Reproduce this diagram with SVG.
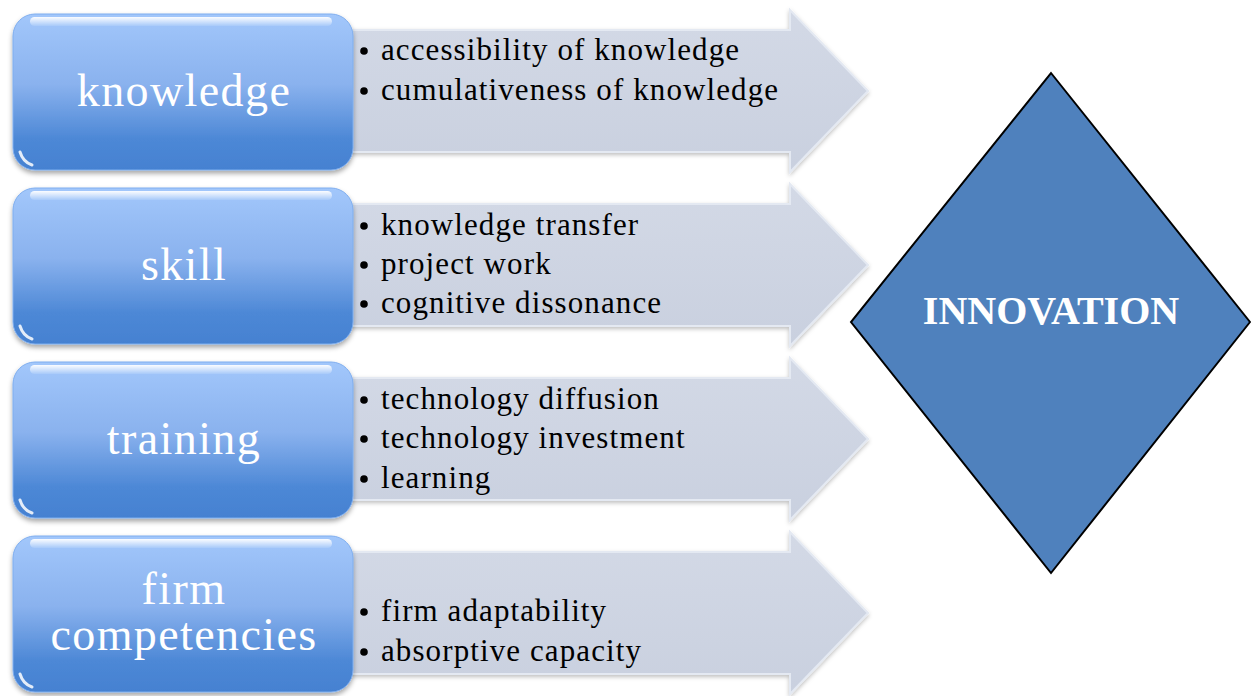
<svg xmlns="http://www.w3.org/2000/svg" width="1251" height="696" viewBox="0 0 1251 696">
<defs>
  <linearGradient id="boxg" x1="0" y1="0" x2="0" y2="1">
    <stop offset="0" stop-color="#A2C7FB"/>
    <stop offset="0.45" stop-color="#8AB2EE"/>
    <stop offset="0.8" stop-color="#4D88D6"/>
    <stop offset="1" stop-color="#4581D1"/>
  </linearGradient>
  <linearGradient id="gloss" x1="0" y1="0" x2="0" y2="1">
    <stop offset="0" stop-color="#FFFFFF" stop-opacity="0.95"/>
    <stop offset="1" stop-color="#FFFFFF" stop-opacity="0.1"/>
  </linearGradient>
  <linearGradient id="arrg" x1="0" y1="0" x2="0" y2="1">
    <stop offset="0" stop-color="#D3D9E6"/>
    <stop offset="1" stop-color="#C9D0DF"/>
  </linearGradient>
  <filter id="sh" x="-10%" y="-10%" width="120%" height="130%">
    <feDropShadow dx="0" dy="3" stdDeviation="2.5" flood-color="#000" flood-opacity="0.35"/>
  </filter>
  <filter id="sha" x="-10%" y="-10%" width="120%" height="130%">
    <feDropShadow dx="0" dy="2" stdDeviation="2" flood-color="#000" flood-opacity="0.25"/>
  </filter>
  <path id="arrow" d="M350,-61 H790 V-81 L868,0 L790,81 V61 H350 Z"/>
  <path id="blob" d="M16,-20 Q18,-6 30,-2 Q20,-4 16,-20 Z"/>
</defs>
<style>
  .arr { fill: url(#arrg); stroke: #E4E9F2; stroke-width: 2; filter: url(#sha); }
  .box { fill: url(#boxg); stroke: #7FAEEF; stroke-width: 1; filter: url(#sh); }
  .lbl { font-family: "Liberation Serif", "Times New Roman", serif; font-size: 46px; letter-spacing: 1.4px; fill: #FFFFFF; text-anchor: middle; }
  .bul { font-family: "Liberation Serif", "Times New Roman", serif; font-size: 31px; letter-spacing: 1.1px; fill: #000000; }
  .dot { fill: #000000; }
  .inn { font-family: "Liberation Serif", "Times New Roman", serif; font-size: 40px; font-weight: bold; fill: #FFFFFF; text-anchor: middle; }
  .gl { fill: url(#gloss); }
  .bl { fill: none; stroke: #FFFFFF; stroke-width: 3; stroke-linecap: round; opacity: 0.85; }
</style>

<g id="connectors">
  <use href="#arrow" class="arr" transform="translate(0,91)"/>
  <use href="#arrow" class="arr" transform="translate(0,265)"/>
  <use href="#arrow" class="arr" transform="translate(0,439)"/>
  <use href="#arrow" class="arr" transform="translate(0,613)"/>
</g>

<g id="bullets-knowledge">
  <circle class="dot" cx="364" cy="51" r="3.8"/>
  <text class="bul" x="381" y="60">accessibility of knowledge</text>
  <circle class="dot" cx="364" cy="91" r="3.8"/>
  <text class="bul" x="381" y="100">cumulativeness of knowledge</text>
</g>
<g id="bullets-skill">
  <circle class="dot" cx="364" cy="226" r="3.8"/>
  <text class="bul" x="381" y="235">knowledge transfer</text>
  <circle class="dot" cx="364" cy="265" r="3.8"/>
  <text class="bul" x="381" y="274">project work</text>
  <circle class="dot" cx="364" cy="304" r="3.8"/>
  <text class="bul" x="381" y="313">cognitive dissonance</text>
</g>
<g id="bullets-training">
  <circle class="dot" cx="364" cy="400" r="3.8"/>
  <text class="bul" x="381" y="409">technology diffusion</text>
  <circle class="dot" cx="364" cy="439" r="3.8"/>
  <text class="bul" x="381" y="448">technology investment</text>
  <circle class="dot" cx="364" cy="479" r="3.8"/>
  <text class="bul" x="381" y="488">learning</text>
</g>
<g id="bullets-firm">
  <circle class="dot" cx="364" cy="612" r="3.8"/>
  <text class="bul" x="381" y="621">firm adaptability</text>
  <circle class="dot" cx="364" cy="652" r="3.8"/>
  <text class="bul" x="381" y="661">absorptive capacity</text>
</g>

<g id="node-knowledge">
  <rect class="box" x="13" y="14" width="340" height="156" rx="22"/>
  <rect class="gl" x="30" y="17" width="302" height="9" rx="4.5"/>
  <path class="bl" d="M20,152 Q23,162 32,165"/>
  <text class="lbl" x="184" y="106">knowledge</text>
</g>
<g id="node-skill">
  <rect class="box" x="13" y="188" width="340" height="156" rx="22"/>
  <rect class="gl" x="30" y="191" width="302" height="9" rx="4.5"/>
  <path class="bl" d="M20,326 Q23,336 32,339"/>
  <text class="lbl" x="184" y="280">skill</text>
</g>
<g id="node-training">
  <rect class="box" x="13" y="362" width="340" height="156" rx="22"/>
  <rect class="gl" x="30" y="365" width="302" height="9" rx="4.5"/>
  <path class="bl" d="M20,500 Q23,510 32,513"/>
  <text class="lbl" x="184" y="454">training</text>
</g>
<g id="node-firm">
  <rect class="box" x="13" y="536" width="340" height="156" rx="22"/>
  <rect class="gl" x="30" y="539" width="302" height="9" rx="4.5"/>
  <path class="bl" d="M20,674 Q23,684 32,687"/>
  <text class="lbl" x="184" y="604">firm</text>
  <text class="lbl" x="184" y="650">competencies</text>
</g>

<g id="node-innovation">
  <polygon points="1051,73 1250,322 1051,573 851,322" fill="#4F81BD" stroke="#000000" stroke-width="2"/>
  <text class="inn" x="1051" y="324">INNOVATION</text>
</g>
</svg>
